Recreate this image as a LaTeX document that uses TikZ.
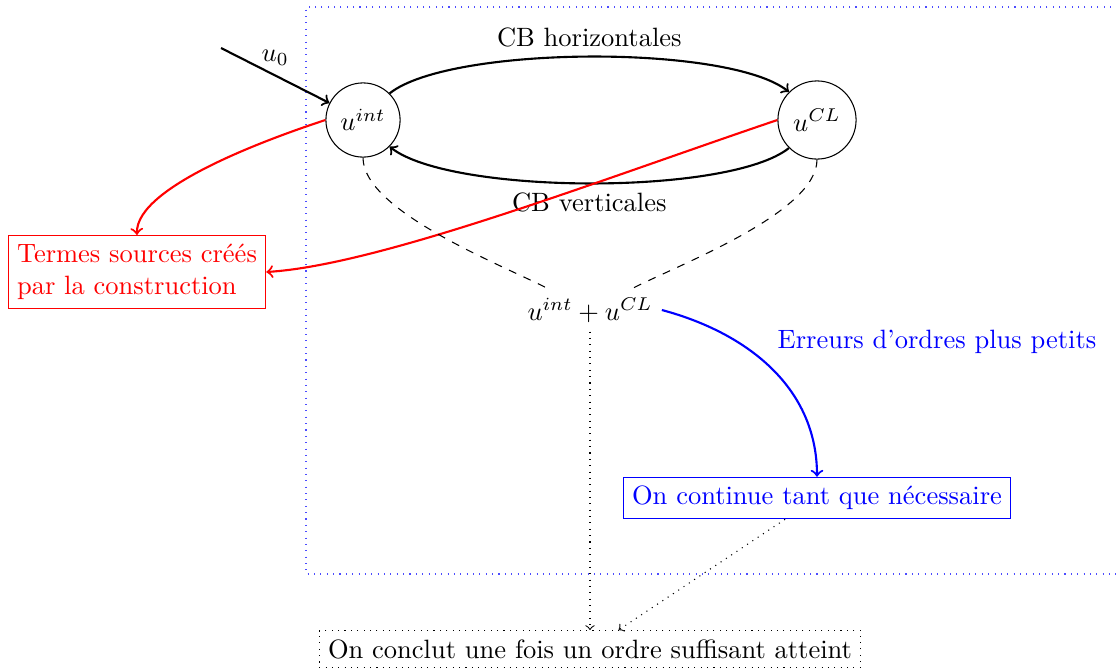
\documentclass[tikz,border=0pt]{standalone}
\begin{document}
\begin{tikzpicture}[x=0.3774pt,y=-0.3774pt,
  circ/.style={draw,circle,inner sep=0pt},
  conn/.style={thick,->},
  redconn/.style={thick,->,red},
  blueconn/.style={thick,->,blue},
  frame/.style={blue!70,dotted},
  redbox/.style={draw=red,text=red,align=left},
  bluebox/.style={draw=blue,text=blue},
  dotbox/.style={draw,dotted}]
\useasboundingbox (0,0) rectangle (1116,668);
\draw[frame] (1130,7) -- (306,7) -- (306,574) -- (1130,574);
\node[circ,minimum size=28pt] (uint) at (363,120) {$u^{int}$};
\node[circ,minimum size=29.5pt] (ucl) at (817,120) {$u^{CL}$};
\coordinate (u0) at (221,48);
\node[redbox] (termes) at (137,272) {Termes sources créés\\par la construction};
\node (sum) at (590,310) {$u^{int}+u^{CL}$};
\node[bluebox] (cont) at (817,498) {On continue tant que nécessaire};
\node[dotbox] (concl) at (590,649) {On conclut une fois un ordre suffisant atteint};
\node[text=blue] (errlab) at (937,342) {Erreurs d'ordres plus petits};

\draw[conn] (u0) -- node[pos=0.5,above] {$u_0$} (uint);
\draw[conn] (uint.45) .. controls +(60,-48) and +(-60,-48) .. (ucl.135)
  node[midway,above] {CB horizontales};
\draw[conn] (ucl.225) .. controls +(-60,48) and +(60,48) .. (uint.-45)
  node[midway,below] {CB verticales};
\draw[redconn] (uint.west) .. controls (280,135) and (135,185) .. (termes.north);
\draw[redconn] (ucl.west) .. controls (600,180) and (380,265) .. (termes.east);
\draw[dashed] (uint.south) to[out=-90,in=153,looseness=0.6] (sum);
\draw[dashed] (ucl.south) to[out=-90,in=27,looseness=0.6] (sum);
\draw[blueconn] (sum.east) to[out=-15,in=90] (cont.north);
\draw[dotted,->] (sum) -- (concl);
\draw[dotted,->] (cont) -- (concl);
\end{tikzpicture}
\end{document}
